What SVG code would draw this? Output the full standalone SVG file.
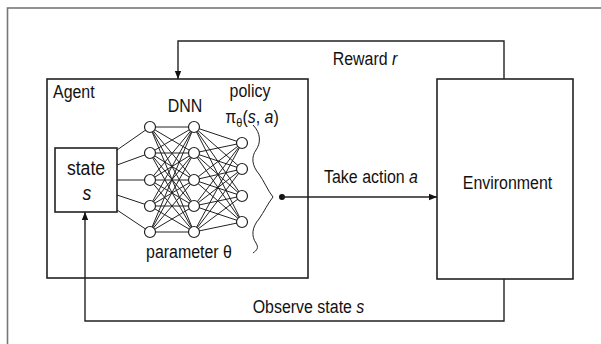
<svg xmlns="http://www.w3.org/2000/svg" width="601" height="344" viewBox="0 0 601 344">
<style>
.t{font-family:"Liberation Sans",Arial,sans-serif;font-size:19px;fill:#111;text-anchor:middle}
.box{fill:none;stroke:#222;stroke-width:1.6}
.ln{fill:none;stroke:#222;stroke-width:1.4}
.nn{fill:none;stroke:#222;stroke-width:1}
.node{fill:#fff;stroke:#222;stroke-width:1.2}
.i{font-style:italic}
</style>
<defs>
<marker id="ah" viewBox="0 0 10 10" refX="10" refY="5" markerWidth="8" markerHeight="8" markerUnits="userSpaceOnUse" orient="auto">
<path d="M0,1 L10,5 L0,9 Z" fill="#111"/>
</marker>
</defs>
<rect width="601" height="344" fill="#fff"/>
<rect x="7.5" y="8" width="700" height="400" fill="none" stroke="#777" stroke-width="1.6"/>

<g id="agent">
<rect class="box" x="47" y="79" width="261" height="199"/>
<text class="t" style="text-anchor:start" transform="translate(53,98) scale(0.84,1)">Agent</text>
</g>

<g id="state">
<rect class="box" x="55" y="148" width="62" height="64"/>
<text class="t" style="font-size:21px" transform="translate(86,175) scale(0.84,1)">state</text>
<text class="t i" style="font-size:21px" transform="translate(87,200) scale(0.84,1)">s</text>
</g>

<g id="dnn">
<g id="dnn-links">
<path class="nn" d="M117,150L150,127M117,165L150,153M117,180L150,180M117,195L150,206M117,210L150,232"/>
<path class="nn" d="M150,127L194,127M150,127L194,153M150,127L194,180M150,127L194,206M150,127L194,232
M150,153L194,127M150,153L194,153M150,153L194,180M150,153L194,206M150,153L194,232
M150,180L194,127M150,180L194,153M150,180L194,180M150,180L194,206M150,180L194,232
M150,206L194,127M150,206L194,153M150,206L194,180M150,206L194,206M150,206L194,232
M150,232L194,127M150,232L194,153M150,232L194,180M150,232L194,206M150,232L194,232"/>
<path class="nn" d="M194,127L242,143M194,127L242,169M194,127L242,196M194,127L242,222
M194,153L242,143M194,153L242,169M194,153L242,196M194,153L242,222
M194,180L242,143M194,180L242,169M194,180L242,196M194,180L242,222
M194,206L242,143M194,206L242,169M194,206L242,196M194,206L242,222
M194,232L242,143M194,232L242,169M194,232L242,196M194,232L242,222"/>
</g>
<circle class="node" cx="150" cy="127" r="5.5"/>
<circle class="node" cx="150" cy="153" r="5.5"/>
<circle class="node" cx="150" cy="180" r="5.5"/>
<circle class="node" cx="150" cy="206" r="5.5"/>
<circle class="node" cx="150" cy="232" r="5.5"/>
<circle class="node" cx="194" cy="127" r="5.5"/>
<circle class="node" cx="194" cy="153" r="5.5"/>
<circle class="node" cx="194" cy="180" r="5.5"/>
<circle class="node" cx="194" cy="206" r="5.5"/>
<circle class="node" cx="194" cy="232" r="5.5"/>
<circle class="node" cx="242" cy="143" r="5.5"/>
<circle class="node" cx="242" cy="169" r="5.5"/>
<circle class="node" cx="242" cy="196" r="5.5"/>
<circle class="node" cx="242" cy="222" r="5.5"/>
<text class="t" transform="translate(185,112) scale(0.84,1)">DNN</text>
<text class="t" transform="translate(189,258) scale(0.84,1)">parameter θ</text>
</g>

<g id="policy">
<text class="t" transform="translate(250,97) scale(0.84,1)">policy</text>
<text class="t" transform="translate(252,123) scale(0.84,1)">π<tspan style="font-size:13px" dy="4">θ</tspan><tspan dy="-4">(</tspan><tspan class="i">s</tspan>, <tspan class="i">a</tspan>)</text>
<path class="nn" d="M253,125 C261,133 261,143 256,150 C251,157 252,166 259,174 C264,181 268,191 273,197 C268,203 264,212 259,219 C252,227 251,236 256,243 C259,248 257,250 253,253"/>
</g>

<g id="environment">
<rect class="box" x="437" y="79" width="136" height="200"/>
<text class="t" transform="translate(507.5,189) scale(0.84,1)">Environment</text>
</g>

<g id="connectors">
<path class="ln" d="M504,79 V41 H178 V79" marker-end="url(#ah)"/>
<circle cx="282" cy="197" r="3" fill="#111"/>
<path class="ln" d="M282,197 H437" marker-end="url(#ah)"/>
<path class="ln" d="M504,279 V321 H85 V212" marker-end="url(#ah)"/>
<text class="t" transform="translate(365,65) scale(0.84,1)">Reward <tspan class="i">r</tspan></text>
<text class="t" transform="translate(371,183) scale(0.84,1)">Take action <tspan class="i">a</tspan></text>
<text class="t" transform="translate(308.5,313) scale(0.84,1)">Observe state <tspan class="i">s</tspan></text>
</g>
</svg>
